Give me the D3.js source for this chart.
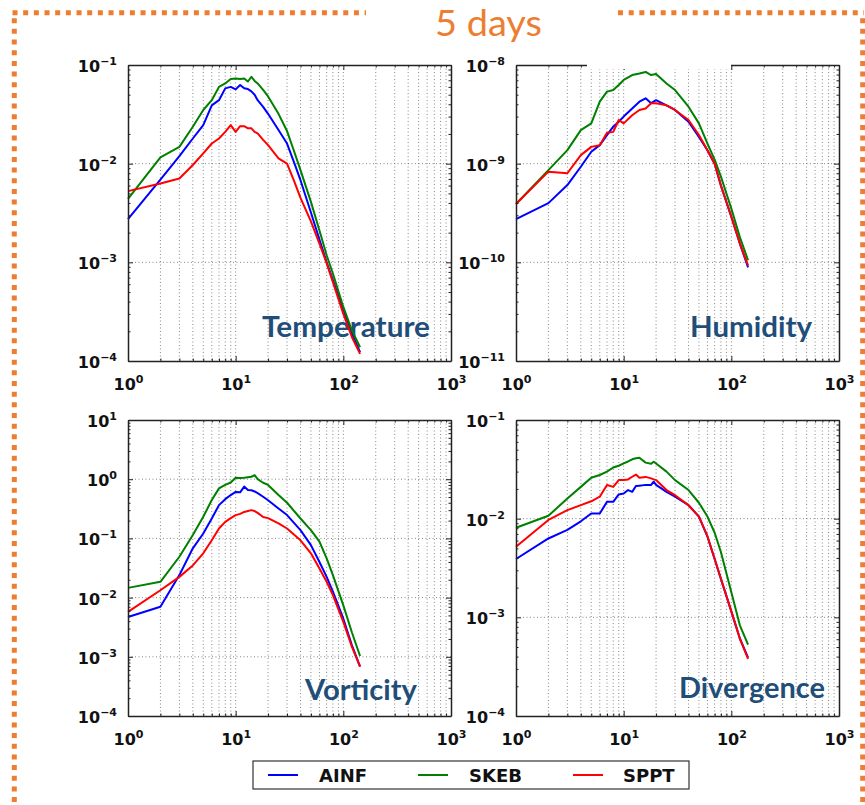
<!DOCTYPE html>
<html>
<head>
<meta charset="utf-8">
<script src="https://cdn.jsdelivr.net/npm/d3@7"></script>
<style>
  html, body { margin: 0; padding: 0; background: #fff; }
  svg { display: block; }
</style>
</head>
<body>
<script>
// ---- spectra at 5 days: wavenumber k and power per scheme ----
const seriesNames = ["AINF", "SKEB", "SPPT"];
const seriesColors = ["#0000ff", "#008000", "#ff0000"];

// Temperature
const kTemp = [1,2,3,4,5,6,7,8,9,10,11,12,13,14,15,16,18,20,25,30,35,40,50,60,70,80,100,120,143];
const tempAINF = [2.74e-3,6.9e-3,1.19e-2,1.8e-2,2.46e-2,3.9e-2,4.4e-2,5.8e-2,6.0e-2,5.66e-2,6.27e-2,5.8e-2,5.7e-2,5.4e-2,5.0e-2,4.4e-2,3.77e-2,3.2e-2,2.19e-2,1.6e-2,1.02e-2,6.8e-3,3.2e-3,1.7e-3,1.0e-3,6.6e-4,3.3e-4,1.9e-4,1.23e-4];
const tempSKEB = [4.4e-3,1.16e-2,1.48e-2,2.37e-2,3.5e-2,4.4e-2,6.0e-2,6.5e-2,7.2e-2,7.3e-2,7.2e-2,7.3e-2,6.8e-2,7.6e-2,6.9e-2,6.5e-2,5.6e-2,4.8e-2,3.2e-2,2.14e-2,1.32e-2,8.6e-3,4.1e-3,2.1e-3,1.18e-3,7.7e-4,3.53e-4,2.05e-4,1.38e-4];
const tempSPPT = [5.27e-3,6.3e-3,7.07e-3,9.7e-3,1.27e-2,1.6e-2,1.8e-2,2.1e-2,2.46e-2,2.1e-2,2.4e-2,2.4e-2,2.28e-2,2.28e-2,2.1e-2,2.03e-2,1.74e-2,1.54e-2,1.13e-2,1.0e-2,6.6e-3,4.5e-3,2.6e-3,1.55e-3,9.8e-4,6.3e-4,3.0e-4,1.75e-4,1.18e-4];

// Humidity
const kHum = [1,2,3,4,5,6,7,8,9,10,12,14,16,18,20,25,30,40,50,60,70,80,100,120,143];
const humAINF = [2.74e-10,3.98e-10,6.07e-10,9.3e-10,1.32e-9,1.54e-9,1.95e-9,2.37e-9,2.66e-9,3.0e-9,3.63e-9,4.25e-9,4.6e-9,4.1e-9,4.4e-9,3.9e-9,3.5e-9,2.66e-9,1.87e-9,1.37e-9,1.0e-9,6.0e-10,2.9e-10,1.55e-10,8.9e-11];
const humSKEB = [3.9e-10,8.6e-10,1.37e-9,2.19e-9,2.56e-9,4.25e-9,5.37e-9,5.57e-9,6.27e-9,7.05e-9,7.9e-9,8.2e-9,8.5e-9,7.9e-9,8.1e-9,6.5e-9,5.57e-9,3.78e-9,2.56e-9,1.6e-9,1.1e-9,7.4e-10,3.5e-10,1.8e-10,1.05e-10];
const humSPPT = [3.9e-10,8.3e-10,8.0e-10,1.22e-9,1.48e-9,1.54e-9,2.06e-9,2.1e-9,2.77e-9,2.56e-9,3.1e-9,3.5e-9,3.63e-9,4.1e-9,4.1e-9,3.9e-9,3.5e-9,2.77e-9,1.95e-9,1.37e-9,1.0e-9,6.0e-10,2.9e-10,1.55e-10,9.3e-11];

// Vorticity
const kVor = [1,2,3,4,5,6,7,8,9,10,11,12,13,14,15,16,18,20,25,30,40,50,60,70,80,100,120,143];
const vorAINF = [4.7e-3,7.0e-3,2.4e-2,6.8e-2,0.121,0.217,0.365,0.46,0.54,0.61,0.6,0.75,0.66,0.65,0.62,0.58,0.505,0.44,0.32,0.248,0.138,0.077,0.040,0.0224,0.0126,4.4e-3,1.58e-3,6.8e-4];
const vorSKEB = [1.46e-2,1.85e-2,4.9e-2,0.114,0.232,0.444,0.70,0.80,0.88,1.06,1.05,1.06,1.08,1.1,1.17,1.0,0.87,0.80,0.54,0.40,0.217,0.138,0.088,0.046,0.024,7.4e-3,2.6e-3,1.03e-3];
const vorSPPT = [5.75e-3,1.33e-2,2.24e-2,3.5e-2,5.6e-2,9.3e-2,0.147,0.19,0.22,0.247,0.26,0.28,0.29,0.30,0.29,0.27,0.23,0.22,0.179,0.147,0.093,0.056,0.031,0.0185,0.011,3.9e-3,1.48e-3,6.8e-4];

// Divergence
const kDiv = [1,2,3,4,5,6,7,8,9,10,11,12,13,14,16,18,19,20,25,30,40,50,60,70,80,100,120,143];
const divAINF = [3.9e-3,6.3e-3,7.7e-3,9.4e-3,1.13e-2,1.13e-2,1.48e-2,1.48e-2,1.76e-2,1.8e-2,1.95e-2,1.87e-2,2.14e-2,2.16e-2,2.2e-2,2.2e-2,2.37e-2,2.2e-2,1.87e-2,1.67e-2,1.37e-2,1.05e-2,6.6e-3,3.9e-3,2.46e-3,1.15e-3,6.1e-4,3.9e-4];
const divSKEB = [8.1e-3,1.07e-2,1.6e-2,2.1e-2,2.6e-2,2.77e-2,3.0e-2,3.3e-2,3.44e-2,3.63e-2,3.8e-2,4.0e-2,4.1e-2,4.14e-2,3.7e-2,3.6e-2,3.78e-2,3.63e-2,3.0e-2,2.46e-2,1.95e-2,1.45e-2,1.05e-2,7.2e-3,4.6e-3,1.8e-3,8.3e-4,5.3e-4];
const divSPPT = [5.2e-3,9.7e-3,1.22e-2,1.37e-2,1.5e-2,1.67e-2,2.19e-2,2.1e-2,2.46e-2,2.46e-2,2.5e-2,2.66e-2,2.8e-2,2.6e-2,2.65e-2,2.56e-2,2.5e-2,2.46e-2,1.95e-2,1.73e-2,1.37e-2,1.05e-2,6.6e-3,3.9e-3,2.46e-3,1.15e-3,6.1e-4,3.8e-4];

// ---- layout ----
const W = 865, H = 805;
const panels = [
  { name: "Temperature", k: kTemp, values: [tempAINF, tempSKEB, tempSPPT], yExp: [-4, -1],
    box: [128, 65, 451, 361], label: { x: 262, y: 337, len: 168 } },
  { name: "Humidity", k: kHum, values: [humAINF, humSKEB, humSPPT], yExp: [-11, -8],
    box: [516, 65, 839, 361], label: { x: 690, y: 337, len: 122 } },
  { name: "Vorticity", k: kVor, values: [vorAINF, vorSKEB, vorSPPT], yExp: [-4, 1],
    box: [128, 420, 451, 716], label: { x: 305, y: 700, len: 112 } },
  { name: "Divergence", k: kDiv, values: [divAINF, divSKEB, divSPPT], yExp: [-4, -1],
    box: [516, 420, 839, 716], label: { x: 679, y: 698, len: 146 } }
];

const svg = d3.select("body").append("svg").attr("width", W).attr("height", H);
svg.append("rect").attr("width", W).attr("height", H).attr("fill", "#fff");

// dotted orange frame and title
const orange = "#ed7d31";
const frame = svg.append("g").attr("fill", "none").attr("stroke", orange)
  .attr("stroke-width", 5).attr("stroke-dasharray", "5 5.67");
frame.append("line").attr("x1", 12.5).attr("y1", 12.7).attr("x2", 366).attr("y2", 12.7);
frame.append("line").attr("x1", 618).attr("y1", 12.7).attr("x2", 864).attr("y2", 12.7);
frame.append("line").attr("x1", 14.3).attr("y1", 18.2).attr("x2", 14.3).attr("y2", 810);
frame.append("line").attr("x1", 862.7).attr("y1", 18.2).attr("x2", 862.7).attr("y2", 810);

svg.append("text").attr("x", 435).attr("y", 36)
  .attr("font-family", "Lato, 'Open Sans', sans-serif").attr("font-weight", 400)
  .attr("font-size", 37).attr("fill", orange)
  .attr("textLength", 107).attr("lengthAdjust", "spacingAndGlyphs")
  .text("5 days");

const tickFont = "'DejaVu Sans', sans-serif";

function decades(a, b) { return d3.range(a, b + 1).map(e => Math.pow(10, e)); }
function minors(a, b) {
  const out = [];
  for (let e = a; e < b; e++) for (let m = 2; m <= 9; m++) out.push(m * Math.pow(10, e));
  return out;
}
function setPow(textSel) {
  textSel.each(function (d) {
    const e = Math.round(Math.log10(d));
    const t = d3.select(this);
    t.text(null);
    t.append("tspan").text("10");
    t.append("tspan").attr("font-size", 11).attr("dy", -7).text(e < 0 ? "\u2212" + (-e) : String(e));
  });
}

panels.forEach(p => {
  const [x0, y0, x1, y1] = p.box;
  const x = d3.scaleLog().domain([1, 1000]).range([x0, x1]);
  const y = d3.scaleLog().domain([Math.pow(10, p.yExp[0]), Math.pow(10, p.yExp[1])]).range([y1, y0]);
  const g = svg.append("g");

  const xMaj = decades(0, 3), xMin = minors(0, 3);
  const yMaj = decades(p.yExp[0], p.yExp[1]), yMin = minors(p.yExp[0], p.yExp[1]);

  // grid: vertical at major and minor wavenumbers, horizontal at decades
  const grid = g.append("g").attr("stroke", "#555").attr("stroke-width", 0.7)
    .attr("stroke-dasharray", "1 2.5").attr("fill", "none");
  grid.selectAll(".vx").data(xMaj.concat(xMin).filter(v => v > 1 && v < 1000)).join("line")
    .attr("x1", d => x(d)).attr("x2", d => x(d)).attr("y1", y0).attr("y2", y1);
  grid.selectAll(".hy").data(yMaj.slice(1, -1)).join("line")
    .attr("x1", x0).attr("x2", x1).attr("y1", d => y(d)).attr("y2", d => y(d));

  // panel title
  g.append("text").attr("x", p.label.x).attr("y", p.label.y)
    .attr("font-family", "Lato, 'Open Sans', sans-serif").attr("font-weight", 700)
    .attr("font-size", 28).attr("fill", "#1f4e79")
    .attr("textLength", p.label.len).attr("lengthAdjust", "spacingAndGlyphs")
    .text(p.name);

  // spectra
  const line = d3.line().x(d => x(d[0])).y(d => y(d[1]));
  p.values.forEach((vals, i) => {
    g.append("path").datum(p.k.map((k, j) => [k, vals[j]]))
      .attr("fill", "none").attr("stroke", seriesColors[i]).attr("stroke-width", 2)
      .attr("stroke-linejoin", "round").attr("d", line);
  });

  // axes: inward ticks on all four sides
  const styleAxis = sel => {
    sel.select(".domain").attr("stroke", "#222").attr("stroke-width", 1.5);
    sel.selectAll(".tick line").attr("stroke", "#222").attr("stroke-width", 1);
    sel.attr("font-family", tickFont).attr("font-weight", "bold").attr("font-size", 16).attr("fill", "#111");
  };
  const mk = (axisFn, scale, vals, size, fmt, pad) =>
    axisFn(scale).tickValues(vals).tickSizeInner(-size).tickSizeOuter(0).tickPadding(pad).tickFormat(fmt);
  const addAxis = (axisFn, scale, maj, mins, tr, labelled, pad, dy) => {
    const minorG = g.append("g").attr("transform", tr)
      .call(mk(axisFn, scale, mins, 2.5, () => "", 0));
    minorG.select(".domain").remove();
    minorG.selectAll(".tick text").remove();
    minorG.selectAll(".tick line").attr("stroke", "#222").attr("stroke-width", 1);
    const majorG = g.append("g").attr("transform", tr)
      .call(mk(axisFn, scale, maj, 5, d => d, pad));
    styleAxis(majorG);
    if (labelled) majorG.selectAll(".tick text").attr("fill", "#111").attr("dy", dy).call(setPow);
    else majorG.selectAll(".tick text").remove();
  };
  addAxis(d3.axisBottom, x, xMaj, xMin, `translate(0,${y1})`, true, 14, "0.95em");
  addAxis(d3.axisLeft, y, yMaj, yMin, `translate(${x0},0)`, true, 11, "0.4em");
  addAxis(d3.axisTop, x, xMaj, xMin, `translate(0,${y0})`, false, 0, 0);
  addAxis(d3.axisRight, y, yMaj, yMin, `translate(${x1},0)`, false, 0, 0);
});

// white strip over part of the humidity panel's upper frame
svg.append("rect").attr("x", 587).attr("y", 61).attr("width", 144).attr("height", 8).attr("fill", "#fff");

// legend
const lg = svg.append("g");
lg.append("rect").attr("x", 253).attr("y", 761).attr("width", 436).attr("height", 28)
  .attr("fill", "#fff").attr("stroke", "#333").attr("stroke-width", 1.2);
const legendLineX = [268, 418, 573];
const legendTextX = [319, 469, 623];
seriesNames.forEach((n, i) => {
  lg.append("line").attr("x1", legendLineX[i]).attr("x2", legendLineX[i] + 30)
    .attr("y1", 775).attr("y2", 775).attr("stroke", seriesColors[i]).attr("stroke-width", 2);
  lg.append("text").attr("x", legendTextX[i]).attr("y", 781.5)
    .attr("font-family", tickFont).attr("font-weight", "bold").attr("font-size", 18).attr("fill", "#111")
    .text(n);
});
</script>
</body>
</html>
